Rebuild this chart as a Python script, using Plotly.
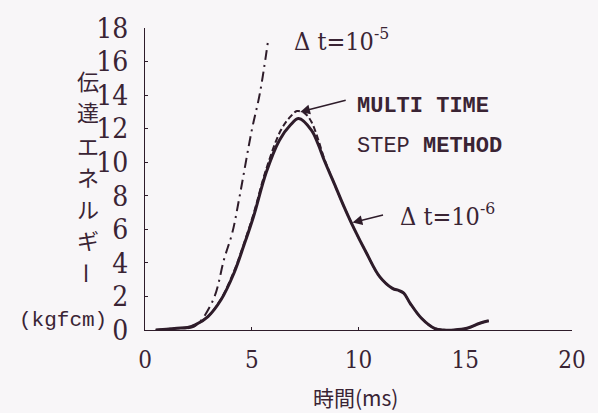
import plotly.graph_objects as go

# ---- data ----
t_fine = [0.5, 1.0, 1.5, 2.0, 2.35, 2.95, 3.56, 4.17, 4.62, 5.08, 5.68, 6.29, 6.8, 7.2,
          7.8, 8.1, 8.4, 8.86, 9.32, 9.77, 10.38, 10.99, 11.59, 11.9, 12.12, 12.42,
          12.95, 13.56, 14.0, 14.47, 15.08, 15.68, 16.1]
e_fine = [0.0, 0.05, 0.1, 0.15, 0.3, 0.8, 1.8, 3.4, 5.0, 6.75, 9.4, 11.3, 12.2, 12.6,
          11.9, 11.1, 10.1, 8.74, 7.35, 6.1, 4.57, 3.18, 2.48, 2.35, 2.2, 1.59,
          0.7, 0.1, 0.0, 0.0, 0.1, 0.4, 0.55]

t_multi = [0.5, 1.0, 1.5, 2.0, 2.35, 2.95, 3.56, 4.17, 4.62, 5.08, 5.68, 6.36, 6.8, 7.12,
           7.5, 7.8, 8.1, 8.4, 8.86, 9.32, 9.77, 10.38, 10.99, 11.59, 11.9, 12.12, 12.42,
           12.95, 13.56, 14.0, 14.47, 15.08, 15.68, 16.1]
e_multi = [0.0, 0.05, 0.1, 0.15, 0.3, 0.8, 1.85, 3.5, 5.1, 6.9, 9.6, 11.9, 12.7, 13.05,
           12.9, 12.4, 11.4, 10.2, 8.74, 7.35, 6.1, 4.57, 3.18, 2.48, 2.35, 2.2, 1.59,
           0.7, 0.1, 0.0, 0.0, 0.1, 0.4, 0.55]

t_coarse = [2.0, 2.3, 2.65, 3.26, 3.7, 4.09, 4.4, 5.0, 5.38, 5.76]
e_coarse = [0.1, 0.2, 0.6, 2.0, 4.2, 5.8, 7.75, 11.9, 14.1, 17.2]

x_ticks = [0, 5, 10, 15, 20]
y_ticks = [0, 2, 4, 6, 8, 10, 12, 14, 16, 18]
y_title_chars = ["伝", "達", "エ", "ネ", "ル", "ギ", "ー"]

INK = "#2e1c2a"
TXT = "#3a2434"
BG = "#f8f6f8"
NUM = "DejaVu Serif Condensed, DejaVu Serif, serif"
CJK = "Noto Sans CJK JP, sans-serif"
MONO = "Liberation Mono, DejaVu Sans Mono, monospace"

fig = go.Figure()
fig.add_trace(go.Scatter(x=t_coarse, y=e_coarse, mode="lines", line_shape="spline",
                         line=dict(color=INK, width=2, dash="10px,5px,2px,5px")))
fig.add_trace(go.Scatter(x=t_multi, y=e_multi, mode="lines", line_shape="spline",
                         line=dict(color=INK, width=2, dash="6px,3px")))
fig.add_trace(go.Scatter(x=t_fine, y=e_fine, mode="lines", line_shape="spline",
                         line=dict(color=INK, width=3)))

L, R, T, B = 145, 13, 28, 83
W, H = 598, 413
pw, ph = W - L - R, H - T - B


def px(xp):
    return (xp - L) / pw


def py(yp):
    return (H - B - yp) / ph


ann = []
# y title, stacked vertically
ycent = [80, 111, 145, 176, 208, 239, 273]
for ch, yc in zip(y_title_chars, ycent):
    ann.append(dict(xref="paper", yref="paper", x=px(86), y=py(yc), text=ch,
                    showarrow=False, font=dict(family=CJK, size=22, color=TXT),
                    textangle=90 if ch == "ー" else 0,
                    xanchor="center", yanchor="middle"))
ann.append(dict(xref="paper", yref="paper", x=px(60), y=py(320), text="(kgfcm)",
                showarrow=False, font=dict(family=MONO, size=21, color=TXT),
                xanchor="center", yanchor="middle"))
# x title
ann.append(dict(xref="paper", yref="paper", x=px(362), y=py(397), text="時間(ms)",
                showarrow=False, font=dict(family=CJK, size=21, color=TXT),
                xanchor="center", yanchor="middle"))
# labels
ann.append(dict(xref="paper", yref="paper", x=px(296), y=py(40),
                text="Δ t=10<sup>-5</sup>", showarrow=False,
                font=dict(family=NUM, size=25, color=TXT), xanchor="left", yanchor="middle"))
ann.append(dict(xref="paper", yref="paper", x=px(361), y=py(106), text="<b>MULTI TIME</b>",
                showarrow=False, font=dict(family=MONO, size=22, color=TXT),
                xanchor="left", yanchor="middle"))
ann.append(dict(xref="paper", yref="paper", x=px(361), y=py(146), text="STEP <b>METHOD</b>",
                showarrow=False, font=dict(family=MONO, size=22, color=TXT),
                xanchor="left", yanchor="middle"))
ann.append(dict(xref="paper", yref="paper", x=px(406), y=py(214),
                text="Δ t=10<sup>-6</sup>", showarrow=False,
                font=dict(family=NUM, size=25, color=TXT), xanchor="left", yanchor="middle"))
# arrows
ann.append(dict(x=7.27, y=13.0, xref="x", yref="y", text="", showarrow=True,
                ax=47, ay=-12, arrowhead=2, arrowsize=1.3, arrowwidth=1.5, arrowcolor=INK))
ann.append(dict(x=9.72, y=6.4, xref="x", yref="y", text="", showarrow=True,
                ax=32, ay=-8, arrowhead=2, arrowsize=1.3, arrowwidth=1.5, arrowcolor=INK))

fig.update_layout(
    width=W, height=H, margin=dict(l=L, r=R, t=T, b=B),
    paper_bgcolor=BG, plot_bgcolor=BG, showlegend=False,
    annotations=ann,
    xaxis=dict(range=[0, 20], tickvals=x_ticks, ticktext=[str(v) for v in x_ticks],
               showgrid=False, zeroline=False, showline=True, linecolor=INK, linewidth=1,
               ticks="inside", ticklen=3, tickcolor=INK, ticklabelstandoff=8,
               ticklabeloverflow="allow",
               tickfont=dict(family=NUM, size=24, color=TXT)),
    yaxis=dict(range=[0, 18], tickvals=y_ticks, ticktext=[str(v) for v in y_ticks],
               showgrid=False, zeroline=False, showline=True, linecolor=INK, linewidth=1,
               ticks="inside", ticklen=3, tickcolor=INK, ticklabelstandoff=10,
               tickfont=dict(family=NUM, size=28, color=TXT)),
)

fig.write_html("out.html")
